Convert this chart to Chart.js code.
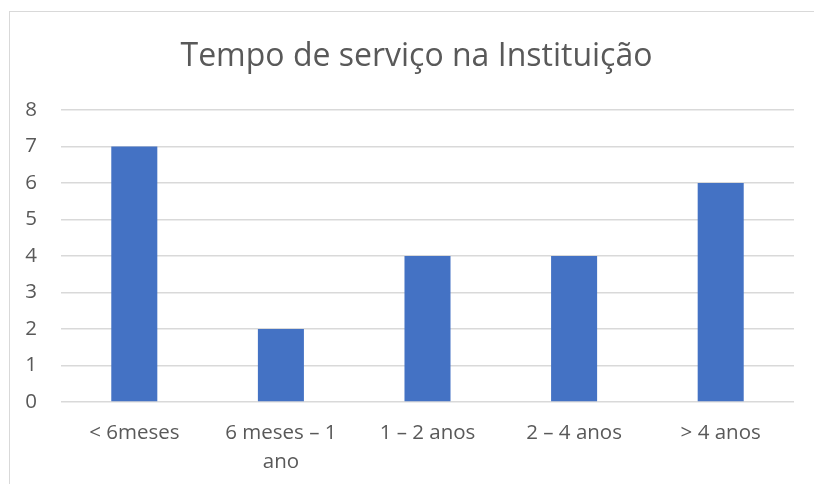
<!DOCTYPE html>
<html>
<head>
<meta charset="utf-8">
<script src="https://cdn.jsdelivr.net/npm/chart.js@4.4.1/dist/chart.umd.min.js"></script>
<style>
	body { margin: 0; background: #fff; }
	.frame {
		position: absolute;
		left: 9px;
		top: 11px;
		width: 830px;
		height: 500px;
		border: 1px solid #d9d9d9;
	}
	#chart { position: absolute; left: 0; top: 0; }
</style>
</head>
<body>
<div class="frame"></div>
<canvas id="chart" width="814" height="484"></canvas>
<script>
// Chart data
const categories = ["< 6meses", ["6 meses – 1", "ano"], "1 – 2 anos", "2 – 4 anos", "> 4 anos"];
const values = [7, 2, 4, 4, 6];
const yTicks = [0, 1, 2, 3, 4, 5, 6, 7, 8];

const textColor = "#595959";
const gridColor = "#d9d9d9";
const barColor = "#4472c4";

document.addEventListener("DOMContentLoaded", () => {
	initChart();
});

// Move the title's left edge so it centres on the frame, not the canvas
const shiftTitlePlugin = {
	id: "shiftTitle",
	afterLayout: (chart) => {
		if (chart.titleBlock) chart.titleBlock.left = 39;
	},
};

const initChart = () => {
	const ctx = document.getElementById("chart");
	// eslint-disable-next-line no-undef
	new Chart(ctx, {
		type: "bar",
		data: {
			labels: categories,
			datasets: [
				{
					data: values,
					backgroundColor: barColor,
					borderWidth: 0,
					categoryPercentage: 1,
					barPercentage: 0.314,
				},
			],
		},
		options: {
			responsive: false,
			animation: false,
			layout: { padding: { left: 0, right: 20, top: 0, bottom: 0 } },
			plugins: {
				legend: { display: false },
				tooltip: { enabled: false },
				title: {
					display: true,
					text: "Tempo de serviço na Instituição",
					color: textColor,
					font: { family: "Open Sans", size: 32, weight: "normal", lineHeight: 1.2 },
					padding: { top: 38, bottom: 33.6 },
				},
			},
			scales: {
				x: {
					grid: { display: false, drawTicks: false },
					border: { display: false },
					ticks: {
						color: textColor,
						font: { family: "Open Sans", size: 20.5, lineHeight: 1.45 },
						padding: 16,
						maxRotation: 0,
						autoSkip: false,
					},
					afterFit: (scale) => {
						scale.height = 82;
					},
				},
				y: {
					min: 0,
					max: 8,
					afterBuildTicks: (scale) => {
						scale.ticks = yTicks.map((v) => ({ value: v }));
					},
					grid: { color: gridColor, lineWidth: 1.5, drawTicks: false },
					border: { display: false },
					ticks: {
						color: textColor,
						font: { family: "Open Sans", size: 20.5 },
						padding: 24,
					},
					afterFit: (scale) => {
						scale.width = 61;
					},
				},
			},
		},
		plugins: [shiftTitlePlugin],
	});
};
</script>
</body>
</html>
